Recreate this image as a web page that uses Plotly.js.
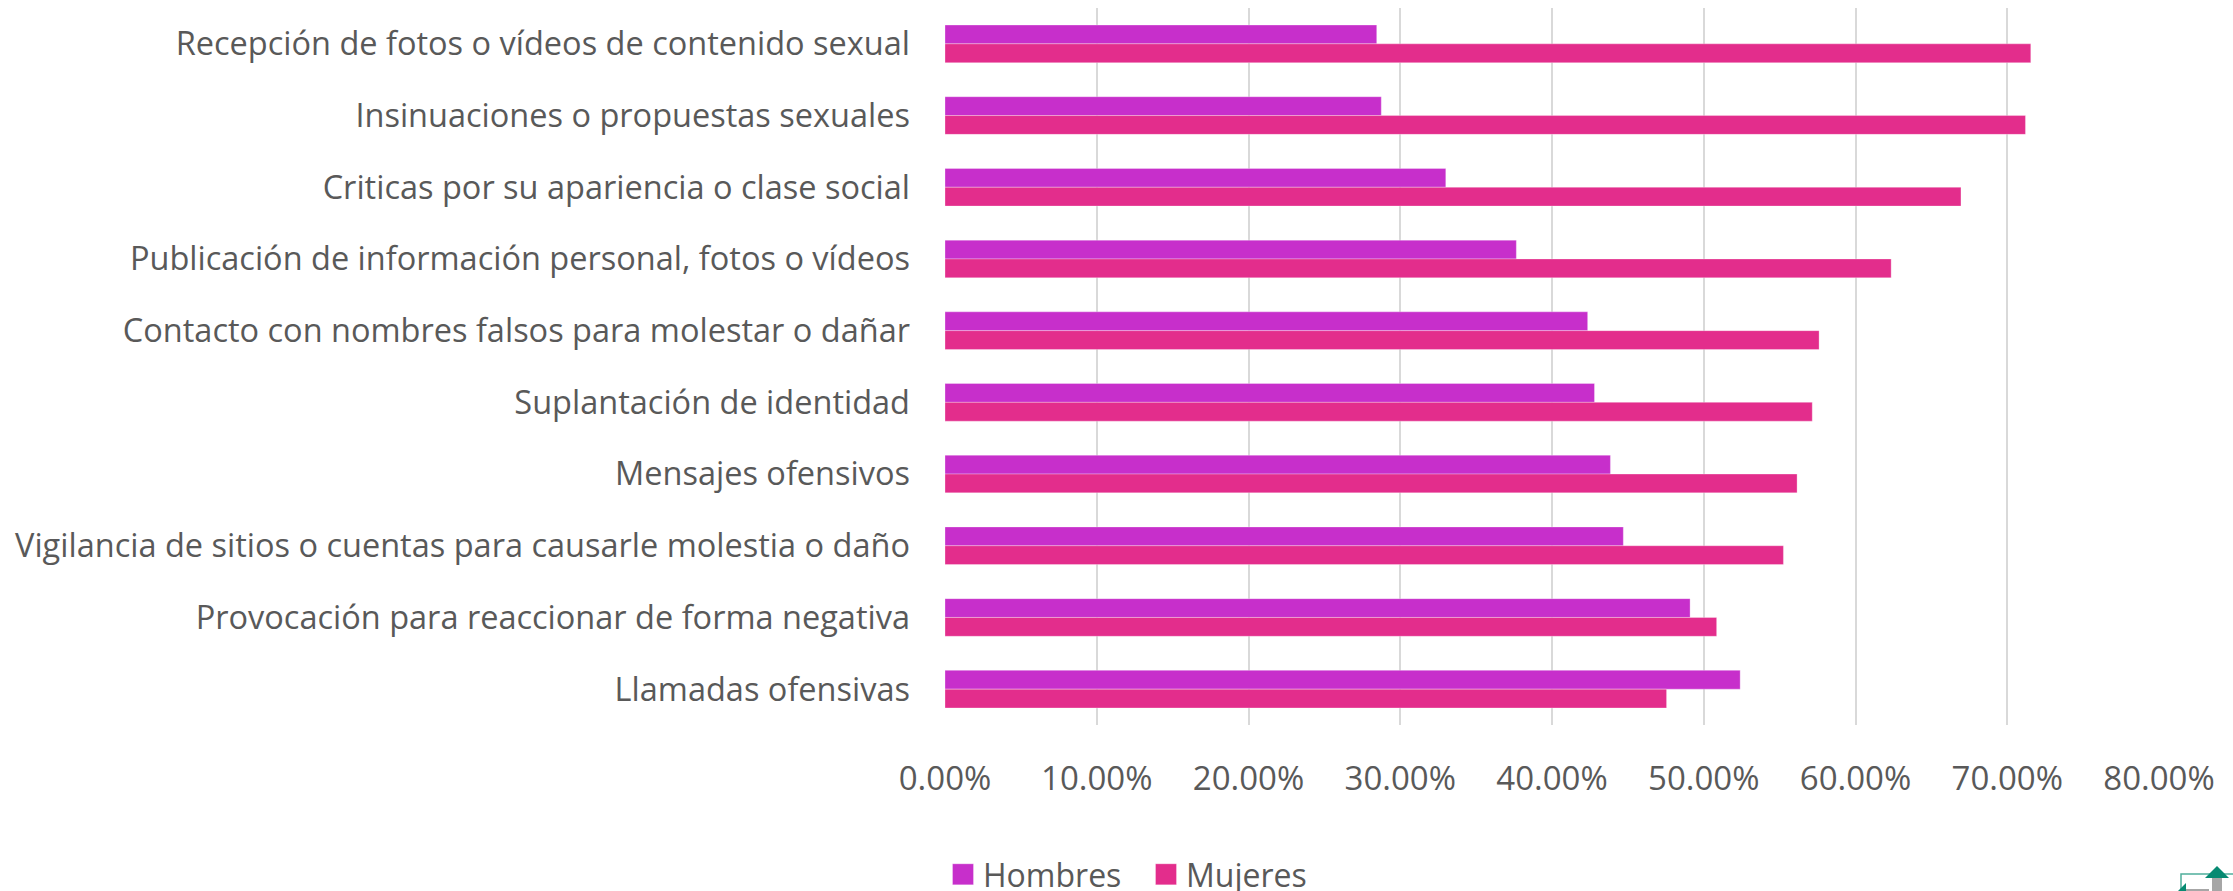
<!DOCTYPE html>
<html><head><meta charset="utf-8">
<script src="https://cdn.plot.ly/plotly-3.0.1.min.js"></script>
<style>html,body{margin:0;padding:0;background:#fff}#c{width:2233px;height:891px}</style>
</head><body><div id="c"></div>
<script>
const categories = ["Recepción de fotos o vídeos de contenido sexual","Insinuaciones o propuestas sexuales","Criticas por su apariencia o clase social","Publicación de información personal, fotos o vídeos","Contacto con nombres falsos para molestar o dañar","Suplantación de identidad","Mensajes ofensivos","Vigilancia de sitios o cuentas para causarle molestia o daño","Provocación para reaccionar de forma negativa","Llamadas ofensivas"];
const hombres = [28.45,28.75,33.0,37.65,42.35,42.8,43.85,44.7,49.1,52.4];
const mujeres = [71.55,71.2,66.95,62.35,57.6,57.15,56.15,55.25,50.85,47.55];
const xTicks = [0,10,20,30,40,50,60,70,80];
const W=2233,H=891,L=945,R=2159,T=8,B=725;
const px=x=>(x-L)/(R-L), py=y=>(B-y)/(B-T);
const FONT='"Open Sans", sans-serif', TXT='#595959';
const bar=(name,x,color)=>({type:'bar',orientation:'h',name,x,y:categories,
  marker:{color,line:{color:'rgba(255,255,255,0.3)',width:1}},hoverinfo:'x+y'});
const logo=[
 {type:'path',path:`M${px(2181)},${py(891)} L${px(2181)},${py(874)} L${px(2233)},${py(874)}`,line:{color:'#4fae9c',width:1.5}},
 {type:'rect',x0:px(2212),x1:px(2222),y0:py(878),y1:py(891),fillcolor:'#a6a6a6',line:{width:0}},
 {type:'path',path:`M${px(2217)},${py(866)} L${px(2229)},${py(878)} L${px(2205)},${py(878)} Z`,fillcolor:'#078a72',line:{width:0}},
 {type:'path',path:`M${px(2186)},${py(883)} L${px(2186)},${py(891)} L${px(2178)},${py(891)} Z`,fillcolor:'#078a72',line:{width:0}},
 {type:'rect',x0:px(2186),x1:px(2209),y0:py(889),y1:py(891),fillcolor:'#a6a6a6',line:{width:0}}
].map(s=>Object.assign({xref:'paper',yref:'paper',layer:'above'},s));
const layout={width:W,height:H,paper_bgcolor:'#fff',plot_bgcolor:'#fff',
 margin:{l:L,r:W-R,t:T,b:H-B,pad:0},barmode:'group',bargap:0.475,bargroupgap:0,
 font:{family:FONT,color:TXT},
 xaxis:{range:[0,80],tickvals:xTicks,ticktext:xTicks.map(v=>v.toFixed(2)+'%'),showgrid:true,gridcolor:'#d9d9d9',gridwidth:2,
   zeroline:false,showline:false,ticks:'',tickfont:{family:FONT,size:33,color:TXT},ticklabelstandoff:31,fixedrange:true},
 yaxis:{type:'category',autorange:'reversed',showgrid:false,zeroline:false,showline:false,ticks:'',automargin:false,
   tickfont:{family:FONT,size:32.5,color:TXT},ticklabelstandoff:34,fixedrange:true},
 showlegend:true,
 legend:{orientation:'h',x:px(943),xanchor:'left',y:py(800),yanchor:'top',entrywidth:158,entrywidthmode:'pixels',font:{family:FONT,size:32,color:TXT},traceorder:'normal',bgcolor:'rgba(0,0,0,0)'},
 shapes:logo};
Plotly.newPlot('c',[bar('Hombres',hombres,'#C72FCB'),bar('Mujeres',mujeres,'#E32D8C')],layout,{displayModeBar:false,staticPlot:true}).then(gd=>{
  gd.querySelectorAll('.legend .legendpoints path').forEach(p=>p.setAttribute('d','M10.5,10.5H-10.5V-10.5H10.5Z'));
  const g=gd.querySelector('.legend');
  const m=/translate\(([-\d.]+)[ ,]+([-\d.]+)\)/.exec(g.getAttribute('transform'));
  g.setAttribute('transform',`translate(${m[1]},${+m[2]+47})`);
});
</script></body></html>
